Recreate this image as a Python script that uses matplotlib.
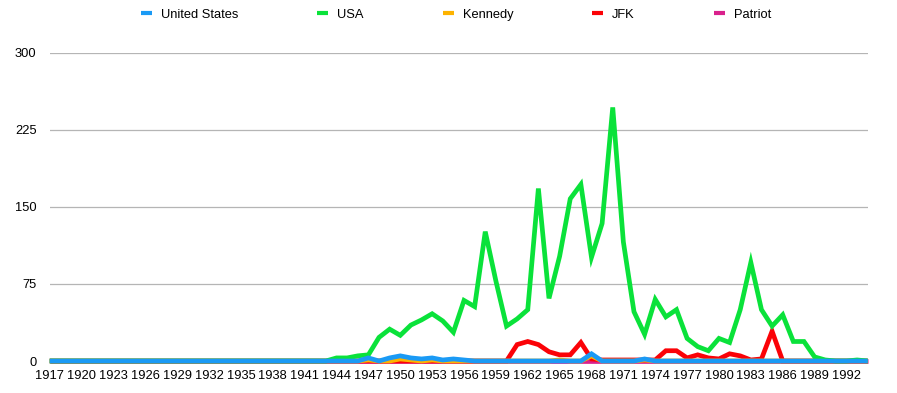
import matplotlib.pyplot as plt
import numpy as np

plt.rcParams['font.family'] = ['Liberation Sans', 'DejaVu Sans']

years = np.arange(1917, 1995)

# values per year, 1917..1994
united_states = [0] * 30 + [3, 0, 3, 5, 3, 2, 3, 1, 2, 1] + [0] * 11 + [7, 0, 0, 0, 0, 2] + [0] * 21
usa = ([0] * 27
       + [3, 3, 5, 6, 23, 31, 25, 35, 40, 46, 39, 28, 59, 53, 126, 78, 34, 41, 50,
          168, 61, 102, 158, 172, 101, 134, 247, 116, 48, 26, 60, 43, 50, 22, 14, 10,
          22, 18, 50, 96, 50, 34, 45, 19, 19, 4, 1, 0, 0, 1, 0])
kennedy = ([0] * 30 + [1, 0, 0, 2, 1, 0, 1] + [0] * 11 + [1, 0, 0, 5, 0, 0, 0, 0, 1] + [0] * 21)
jfk = ([0] * 43
       + [0, 16, 19, 16, 9, 6, 6, 18, 2, 1, 1, 1, 1, 1,
          1, 10, 10, 3, 6, 3, 2, 7, 5, 1, 2, 29, 0]
       + [0] * 8)
patriot = [0] * len(years)

series = [
    ("United States", united_states, "#1a9af5", 6),
    ("USA", usa, "#0ae23a", 5),
    ("Kennedy", kennedy, "#fdb300", 4),
    ("JFK", jfk, "#fb0207", 3),
    ("Patriot", patriot, "#d9218c", 2),
]

fig = plt.figure(figsize=(8.97, 3.93), dpi=100)
ax = fig.add_axes([49.7 / 897, 32 / 393, 818 / 897, 308 / 393])

for name, vals, color, z in series:
    ax.plot(years, vals, color=color, lw=3.4, label=name, zorder=z,
            clip_on=False, solid_joinstyle='miter', solid_capstyle='butt')

ax.set_xlim(1917, 1994)
ax.set_ylim(0, 300)
ax.set_yticks([0, 75, 150, 225, 300])
ax.set_xticks(np.arange(1917, 1994, 3))
ax.grid(axis='y', color='#b5b5b5', lw=0.9, zorder=0)
ax.tick_params(axis='both', length=0, labelsize=9.3, colors='black')
ax.tick_params(axis='y', pad=9.5)
ax.tick_params(axis='x', pad=6.5)
for s in ax.spines.values():
    s.set_visible(False)

leg = fig.legend(loc='center', bbox_to_anchor=(456 / 897, 1 - 14.5 / 393), ncol=5,
                 frameon=False, fontsize=9.3, handlelength=0.85, handletextpad=0.7,
                 columnspacing=6.1)
for h in leg.get_lines():
    h.set_linewidth(3.0)

fig.savefig("out.png", dpi=100)
